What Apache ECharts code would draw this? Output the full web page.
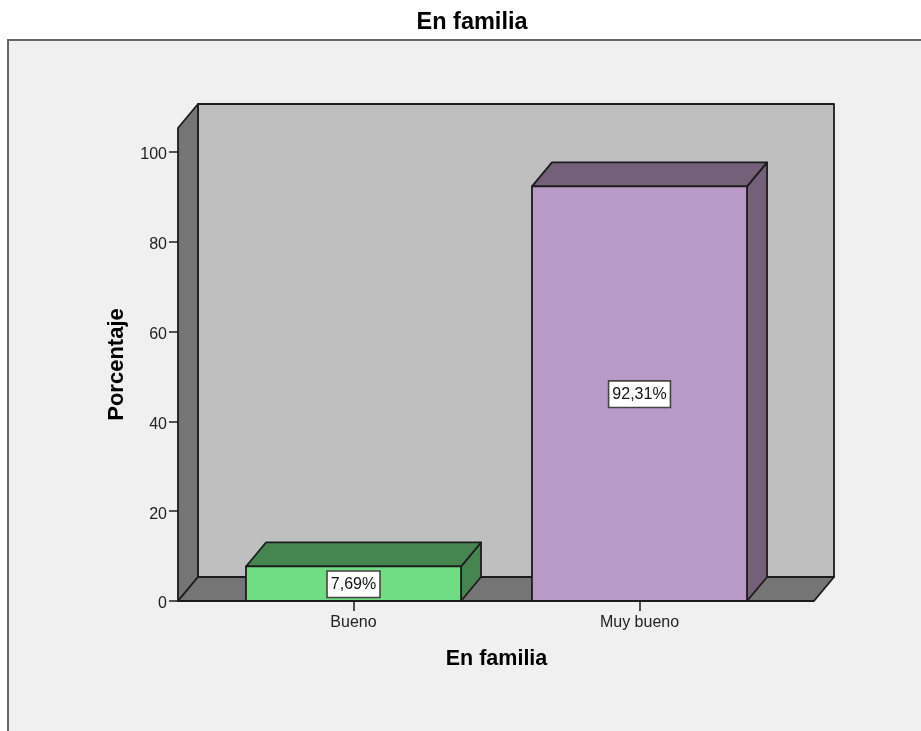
<!DOCTYPE html>
<html>
<head>
<meta charset="utf-8">
<style>html,body{margin:0;padding:0;background:#fff}#c{width:921px;height:731px}</style>
<script src="https://cdn.jsdelivr.net/npm/echarts@6/dist/echarts.min.js"></script>
</head>
<body>
<div id="c"></div>
<script>
const categories = ['Bueno', 'Muy bueno'];
const percentages = [7.69, 92.31];
const percentLabels = ['7,69%', '92,31%'];
const yTicks = [0, 20, 40, 60, 80, 100];
const yMax = 105.3;
const chartTitle = 'En familia';
const xTitle = 'En familia';
const yTitle = 'Porcentaje';

const FONT = '"Liberation Sans", Arial, sans-serif';
const DX = 20, DY = -24;          // oblique depth of the 3D look
const PAD_L = 32.5, PAD_R = 31.5; // wall extension beyond the outer bands
const INK = '#1c1c1c';
const barFaces = [
  { front: '#70dd85', top: '#468550', side: '#468550' },
  { front: '#b899c8', top: '#75607a', side: '#75607a' }
];

function poly(points, fill, z2) {
  return { type: 'polygon', z2: z2 || 0, shape: { points },
    style: { fill, stroke: INK, lineWidth: 1.8, lineJoin: 'round' } };
}

function renderWalls(params, api) {
  const cs = params.coordSys;
  const l = cs.x - PAD_L, r = cs.x + cs.width + PAD_R;
  const b = api.coord([0, 0])[1], t = api.coord([0, yMax])[1];
  return { type: 'group', silent: true, children: [
    poly([[l + DX, t + DY], [r + DX, t + DY], [r + DX, b + DY], [l + DX, b + DY]], '#bfbfbf'),
    poly([[l, t], [l + DX, t + DY], [l + DX, b + DY], [l, b]], '#757575'),
    poly([[l, b], [l + DX, b + DY], [r + DX, b + DY], [r, b]], '#757575')
  ] };
}

function renderBar(params, api) {
  const i = params.dataIndex;
  const v = api.value(1);
  const c = api.coord([api.value(0), v]);
  const b = api.coord([api.value(0), 0])[1];
  const w = api.size([1, 0])[0] * 0.752;
  const x0 = c[0] - w / 2, x1 = c[0] + w / 2, t = c[1];
  const f = barFaces[i];
  return { type: 'group', children: [
    poly([[x1, t], [x1 + DX, t + DY], [x1 + DX, b + DY], [x1, b]], f.side),
    poly([[x0, t], [x0 + DX, t + DY], [x1 + DX, t + DY], [x1, t]], f.top),
    poly([[x0, t], [x1, t], [x1, b], [x0, b]], f.front),
    { type: 'text', z2: 10, style: {
        text: percentLabels[i], x: c[0], y: (t + b) / 2 + 0.5,
        align: 'center', verticalAlign: 'middle',
        font: '16px ' + FONT, fill: '#111',
        backgroundColor: '#fff', borderColor: '#444', borderWidth: 1.6,
        padding: [5, 3, 4, 3] } }
  ] };
}

const chart = echarts.init(document.getElementById('c'), null, { renderer: 'canvas' });
chart.setOption({
  animation: false,
  backgroundColor: '#ffffff',
  title: { text: chartTitle, left: 467, top: 6, textAlign: 'center',
    textStyle: { fontFamily: FONT, fontSize: 23.5, fontWeight: 'bold', color: '#000' } },
  graphic: [{ type: 'rect', z: -10, silent: true,
    shape: { x: 8, y: 40, width: 930, height: 720 },
    style: { fill: '#f0f0f0', stroke: '#666666', lineWidth: 2 } }],
  grid: { left: 210.5, right: 138.5, top: 128, bottom: 130 },
  xAxis: { type: 'category', data: categories,
    name: xTitle, nameLocation: 'middle', nameGap: 47,
    nameTextStyle: { fontFamily: FONT, fontSize: 21.5, fontWeight: 'bold', color: '#000' },
    axisLine: { show: false },
    axisTick: { show: true, alignWithLabel: true, length: 10, lineStyle: { color: INK, width: 1.5 } },
    axisLabel: { fontFamily: FONT, fontSize: 16, color: '#222', margin: 14 } },
  yAxis: { type: 'value', min: 0, max: yMax, offset: 32.5,
    name: yTitle, nameLocation: 'middle', nameGap: 50,
    nameTextStyle: { fontFamily: FONT, fontSize: 22, fontWeight: 'bold', color: '#000' },
    splitLine: { show: false },
    axisLine: { show: false },
    axisTick: { show: true, length: 9, customValues: yTicks, lineStyle: { color: INK, width: 1.5 } },
    axisLabel: { margin: 11, customValues: yTicks, formatter: '{t|{value}}',
      rich: { t: { fontFamily: FONT, fontSize: 16, color: '#222', padding: [6, 0, 0, 0] } } } },
  series: [
    { type: 'custom', z: 1, clip: false, renderItem: renderWalls, data: [[0, 0]], silent: true },
    { type: 'custom', z: 2, clip: false, renderItem: renderBar,
      encode: { x: 0, y: 1 },
      data: categories.map((c, i) => [i, percentages[i]]) }
  ]
});
</script>
</body>
</html>
